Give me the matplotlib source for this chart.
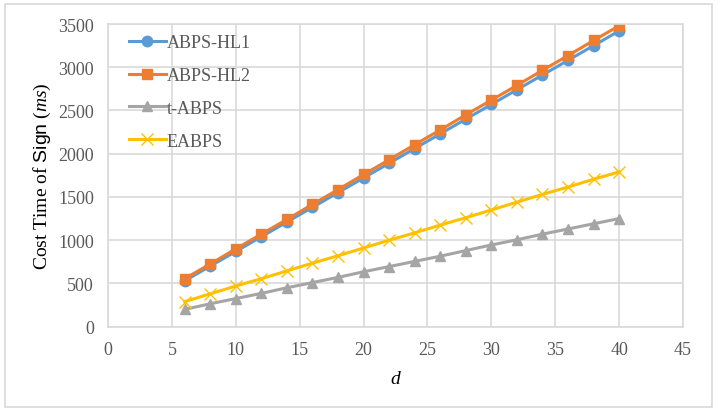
import matplotlib.pyplot as plt
from matplotlib.patches import Rectangle

plt.rcParams['font.family'] = 'Liberation Serif'
plt.rcParams['mathtext.fontset'] = 'custom'
plt.rcParams['mathtext.rm'] = 'Liberation Serif'
plt.rcParams['mathtext.it'] = 'Liberation Serif:italic'
plt.rcParams['mathtext.sf'] = 'Liberation Sans'

# d values and cost times (ms)
d = [6, 8, 10, 12, 14, 16, 18, 20, 22, 24, 26, 28, 30, 32, 34, 36, 38, 40]
abps_hl1 = [530, 700, 870, 1040, 1210, 1380, 1550, 1720, 1890, 2060,
            2230, 2400, 2570, 2740, 2910, 3080, 3250, 3420]
abps_hl2 = [555, 725, 900, 1070, 1240, 1415, 1585, 1760, 1930, 2105,
            2275, 2450, 2620, 2790, 2965, 3135, 3310, 3480]
t_abps = [200, 265, 325, 385, 450, 510, 570, 635, 695, 755,
          815, 880, 945, 1005, 1070, 1130, 1190, 1250]
eabps = [290, 380, 470, 555, 645, 735, 820, 910, 1000, 1085,
         1175, 1260, 1350, 1440, 1530, 1615, 1705, 1790]

fig = plt.figure(figsize=(7.18, 4.14), dpi=100)
ax = fig.add_axes([0.1504, 0.2085, 0.8009, 0.7311])

ax.plot(d, abps_hl1, color='#5B9BD5', lw=2.2, marker='o', ms=7.5, label='ABPS-HL1')
ax.plot(d, abps_hl2, color='#ED7D31', lw=2.2, marker='s', ms=7.5, label='ABPS-HL2')
ax.plot(d, t_abps, color='#A5A5A5', lw=2.2, marker='^', ms=7.5, label='t-ABPS')
ax.plot(d, eabps, color='#FFC000', lw=2.2, marker='x', ms=8.5, mew=1, label='EABPS')

ax.set_xlim(0, 45)
ax.set_ylim(0, 3500)
ax.set_xticks(range(0, 46, 5))
ax.set_yticks(range(0, 3501, 500))
ax.grid(True, color='#d9d9d9', lw=1.2)
ax.set_axisbelow(True)
for s in ax.spines.values():
    s.set_color('#d9d9d9')
    s.set_linewidth(1.2)
ax.tick_params(length=0, labelsize=13, labelcolor='#595959', pad=10)

ax.set_xlabel('$\\mathit{d}$', fontsize=14, labelpad=9)
ax.set_ylabel(r'Cost Time of $\mathsf{Sign}$ ($\mathit{ms}$)', fontsize=14, labelpad=4)

ax.legend(loc='upper left', frameon=False, fontsize=13, labelspacing=0.88,
          handlelength=2.0, handletextpad=0.05, borderaxespad=0.15,
          bbox_to_anchor=(0.02, 1.0), labelcolor='#595959')

fig.patches.append(Rectangle((5 / 718, 6 / 414), 707 / 718, 403 / 414,
                             transform=fig.transFigure, fill=False,
                             edgecolor='#d9d9d9', lw=1.2))

fig.savefig('out.png', dpi=100)
